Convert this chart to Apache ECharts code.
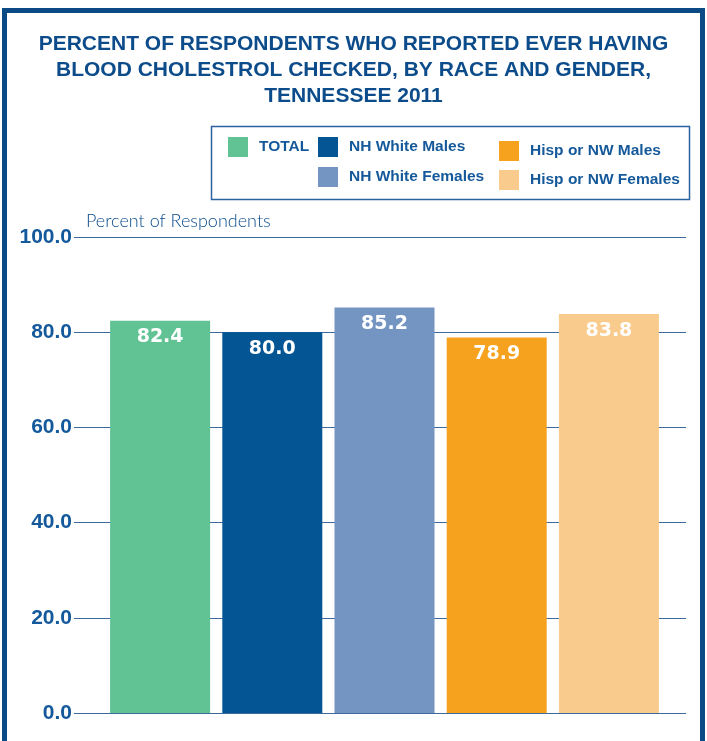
<!DOCTYPE html>
<html>
<head>
<meta charset="utf-8">
<script src="https://cdn.jsdelivr.net/npm/echarts@6/dist/echarts.min.js"></script>
<style>
  html, body { margin: 0; padding: 0; background: #fff; }
  #chart { width: 707px; height: 741px; }
</style>
</head>
<body>
<div id="chart"></div>
<script>
// values
const categories = ['TOTAL', 'NH White Males', 'NH White Females', 'Hisp or NW Males', 'Hisp or NW Females'];
const values = [82.4, 80.0, 85.2, 78.9, 83.8];
const colors = ['#61c393', '#035594', '#7495c2', '#f6a21e', '#f9cb8c'];
const yTicks = [0, 20, 40, 60, 80, 100];

const navy = '#0d4c8b';
const myChart = echarts.init(document.getElementById('chart'));

// one series per group so the legend can list each of them
const seriesArr = categories.map(function (name, i) {
    const data = categories.map(function (c, j) { return j === i ? values[i] : null; });
    return {
        name: name,
        type: 'bar',
        xAxisIndex: 1,
        yAxisIndex: 1,
        data: data,
        barWidth: 100,
        barGap: '-100%',
        itemStyle: { color: colors[i] },
        label: {
            show: true,
            position: 'insideTop',
            distance: 7,
            color: '#fff',
            fontFamily: 'DejaVu Sans',
            fontWeight: 'bold',
            fontSize: 19,
            formatter: function (p) { return p.value.toFixed(1); }
        }
    };
});

const legendText = { color: '#15599a', fontFamily: 'Liberation Sans', fontWeight: 'bold', fontSize: 15.5, padding: [0, 0, 0, 6] };
function legendPart(names, left, top, gap) {
    return {
        data: names, left: left, top: top, orient: 'vertical', padding: 0,
        icon: 'rect', itemWidth: 20, itemHeight: 20, itemGap: gap,
        selectedMode: false, textStyle: legendText
    };
}

const option = {
    animation: false,
    title: {
        text: 'PERCENT OF RESPONDENTS WHO REPORTED EVER HAVING\nBLOOD CHOLESTROL CHECKED, BY RACE AND GENDER,\nTENNESSEE 2011',
        left: 'center',
        top: 26,
        textStyle: {
            color: navy, fontFamily: 'Liberation Sans', fontWeight: 'bold',
            fontSize: 21, lineHeight: 26
        }
    },
    legend: [
        legendPart([categories[0]], 228, 137, 10),
        legendPart([categories[1], categories[2]], 318, 137, 10),
        legendPart([categories[3], categories[4]], 499, 141, 9)
    ],
    grid: [
        { left: 74, right: 21, top: 237, bottom: 28 },
        { left: 104, right: 42, top: 237, bottom: 28 }
    ],
    xAxis: [
        { type: 'category', gridIndex: 0, data: categories, show: false },
        { type: 'category', gridIndex: 1, data: categories, show: false }
    ],
    yAxis: [
        {
            type: 'value', gridIndex: 0, min: yTicks[0], max: yTicks[yTicks.length - 1], interval: 20,
            name: 'Percent of Respondents',
            nameLocation: 'end',
            nameGap: 7,
            nameTextStyle: { color: navy, fontFamily: 'Lato', fontWeight: 300, fontSize: 18, align: 'left', padding: [0, 0, 0, 12] },
            axisLine: { show: false },
            axisTick: { show: false },
            axisLabel: {
                margin: 2, color: '#13599b', fontFamily: 'Liberation Sans', fontWeight: 'bold', fontSize: 21,
                formatter: function (v) { return v.toFixed(1); }
            },
            splitLine: { lineStyle: { color: '#3d6a9a', width: 1 } }
        },
        {
            type: 'value', gridIndex: 1, min: yTicks[0], max: yTicks[yTicks.length - 1], interval: 20,
            show: false, splitLine: { show: false }
        }
    ],
    graphic: [
        {
            type: 'rect', left: 2, top: 8, z: 100,
            shape: { width: 698, height: 760 },
            style: { fill: 'none', stroke: '#0a4a85', lineWidth: 5 }
        },
        {
            type: 'rect', left: 209, top: 124,
            shape: { width: 478, height: 73 },
            style: { fill: 'none', stroke: '#2c62a0', lineWidth: 1.5 }
        }
    ],
    series: seriesArr
};
myChart.setOption(option);
</script>
</body>
</html>
